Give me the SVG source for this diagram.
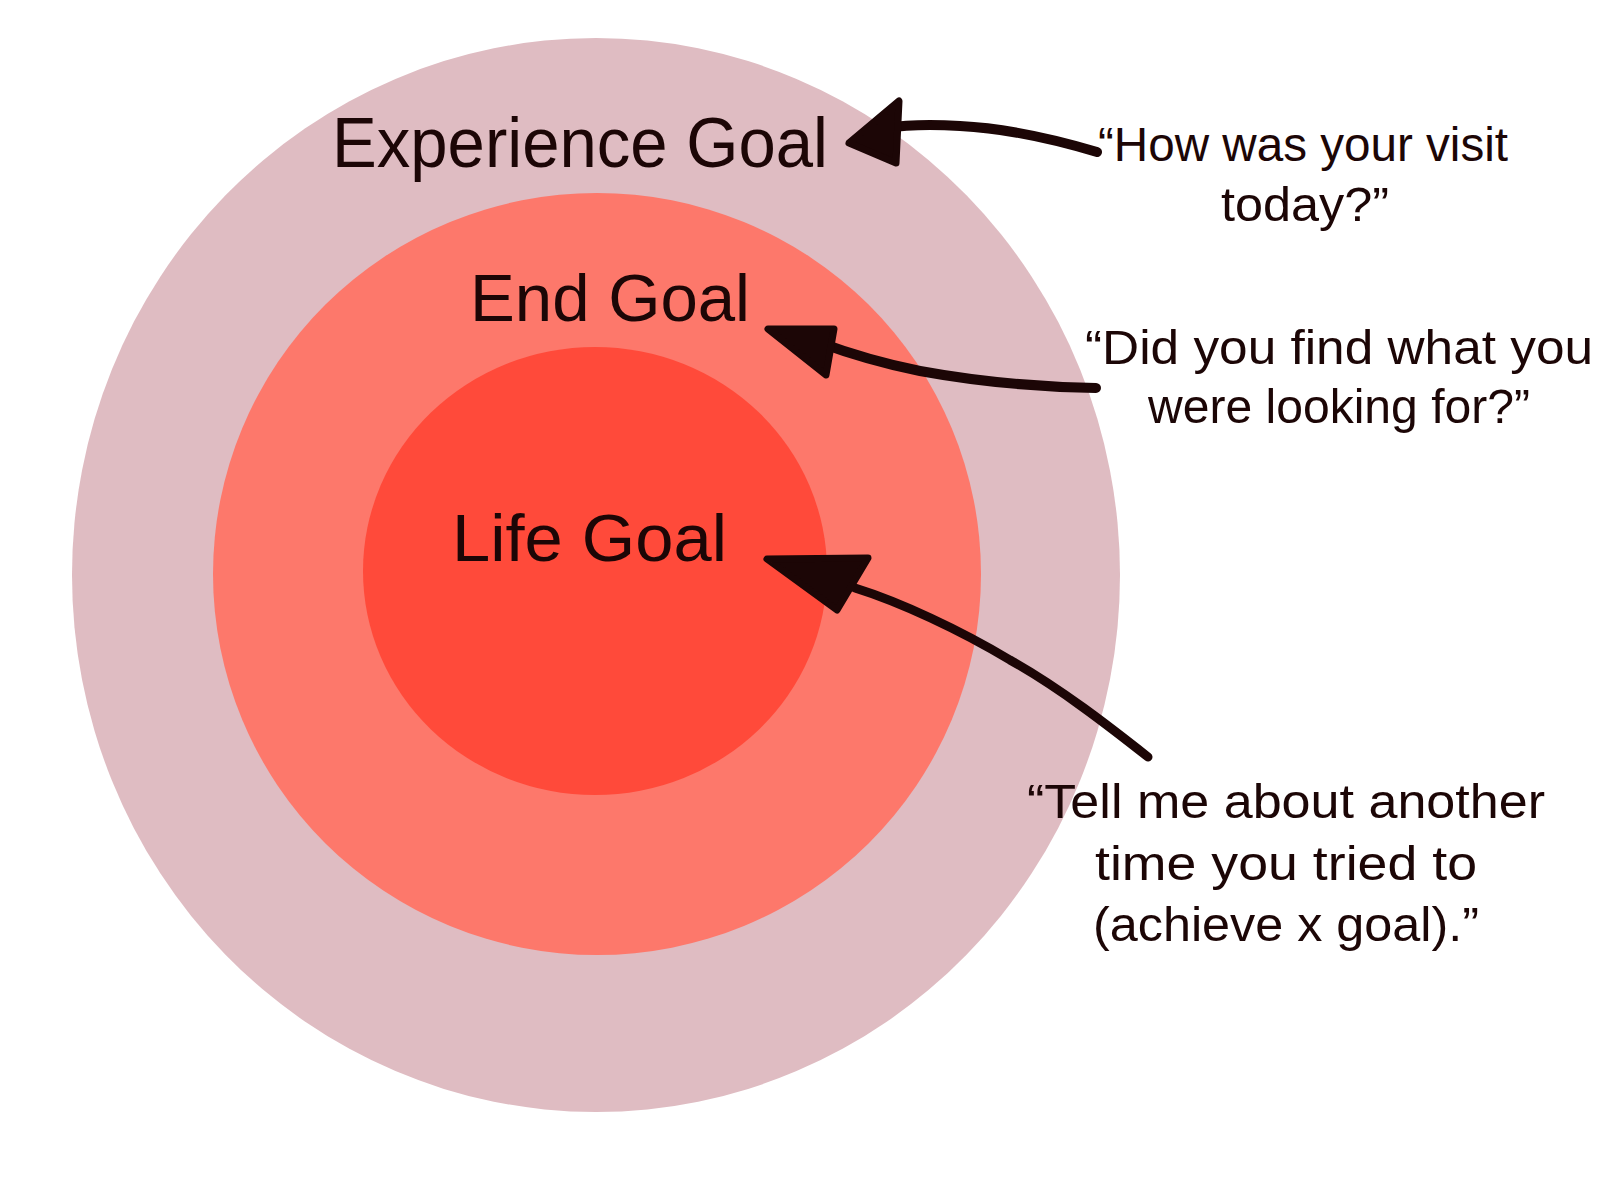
<svg xmlns="http://www.w3.org/2000/svg" width="1600" height="1200" viewBox="0 0 1600 1200">
  <style>
    .label { font-family: "Liberation Sans", "DejaVu Sans", sans-serif; fill: #1c0606; }
    .big { font-size: 70px; }
    .mid { font-size: 66px; }
    .quote { font-size: 48px; text-anchor: middle; }
    .shaft { fill: none; stroke: #1c0606; stroke-linecap: round; stroke-linejoin: round; }
    .head { fill: #1c0606; stroke: #1c0606; stroke-width: 7; stroke-linejoin: round; }
  </style>
  <rect width="1600" height="1200" fill="#ffffff"/>

  <g id="experience-ring">
    <ellipse cx="596" cy="575" rx="524" ry="537" fill="#dfbcc2"/>
    <text class="label big" x="332" y="167" textLength="496" lengthAdjust="spacingAndGlyphs">Experience Goal</text>
  </g>

  <g id="end-ring">
    <ellipse cx="597" cy="574" rx="384" ry="381" fill="#fd786b"/>
    <text class="label mid" x="470" y="321" textLength="280" lengthAdjust="spacingAndGlyphs">End Goal</text>
  </g>

  <g id="life-ring">
    <ellipse cx="595" cy="571" rx="232" ry="224" fill="#ff4a3a"/>
    <text class="label mid" x="452" y="561" textLength="275" lengthAdjust="spacingAndGlyphs">Life Goal</text>
  </g>

  <g id="quote-experience">
    <text class="label quote" x="1303" y="161" textLength="410" lengthAdjust="spacingAndGlyphs">“How was your visit</text>
    <text class="label quote" x="1305" y="221" textLength="168" lengthAdjust="spacingAndGlyphs">today?”</text>
  </g>

  <g id="quote-end">
    <text class="label quote" x="1339" y="364" textLength="508" lengthAdjust="spacingAndGlyphs">“Did you find what you</text>
    <text class="label quote" x="1339" y="423" textLength="382" lengthAdjust="spacingAndGlyphs">were looking for?”</text>
  </g>

  <g id="quote-life">
    <text class="label quote" x="1286" y="818" textLength="518" lengthAdjust="spacingAndGlyphs">“Tell me about another</text>
    <text class="label quote" x="1286" y="880" textLength="382" lengthAdjust="spacingAndGlyphs">time you tried to</text>
    <text class="label quote" x="1286" y="941" textLength="386" lengthAdjust="spacingAndGlyphs">(achieve x goal).”</text>
  </g>

  <g id="connectors">
    <path class="shaft" stroke-width="10" d="M1097,152 C1050,138 1000,128 960,126 C930,124 905,125 885,128"/>
    <polygon class="head" points="849,143 899,101 896,163"/>

    <path class="shaft" stroke-width="10" d="M1096,388 C1040,387 980,382 920,371 C880,363 845,352 818,342"/>
    <polygon class="head" points="768,329 834,329 826,375"/>

    <path class="shaft" stroke-width="9" d="M1148,757 C1110,727 1060,688 1010,660 C960,630 900,602 855,588"/>
    <polygon class="head" points="767,559 868,558 837,610"/>
  </g>
</svg>
